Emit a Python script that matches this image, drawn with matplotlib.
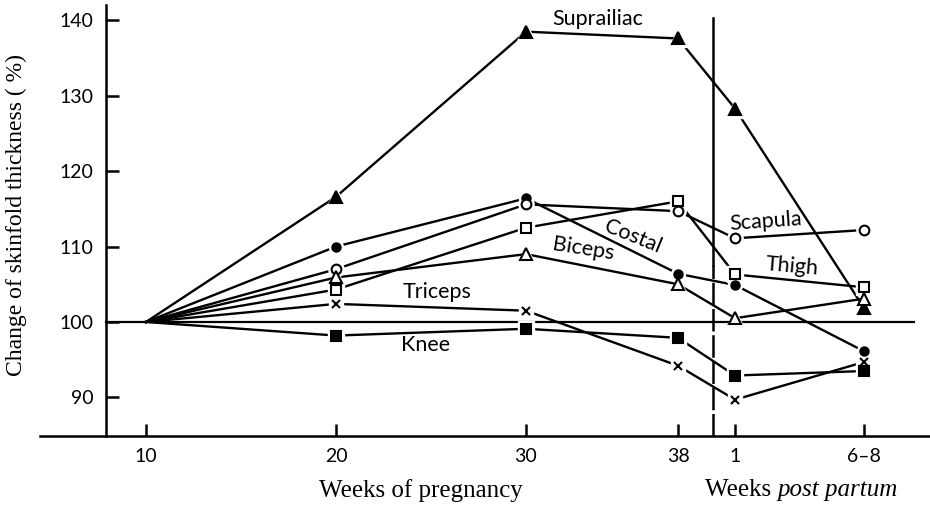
import matplotlib
matplotlib.use('Agg')
from matplotlib import pyplot as plt

# weeks: 10..38 of pregnancy, then 1 and 6-8 weeks post partum
tick_labels = ['10', '20', '30', '38', '1', '6\u20138']
x_pos = [10, 20, 30, 38, 41.0, 47.8]

suprailiac = [100, 116.6, 138.5, 137.6, 128.3, 101.8]
costal = [100, 110.0, 116.4, 106.4, 104.9, 96.1]
scapula = [100, 107.0, 115.6, 114.7, 111.1, 112.2]
thigh = [100, 104.3, 112.5, 116.0, 106.3, 104.6]
biceps = [100, 105.9, 109.0, 105.0, 100.5, 103.1]
triceps = [100, 102.4, 101.5, 94.2, 89.7, 94.7]
knee = [100, 98.2, 99.1, 97.9, 92.9, 93.5]

yticks = [90, 100, 110, 120, 130, 140]

sans = ['Lato', 'DejaVu Sans']
serif = ['Liberation Serif', 'DejaVu Serif']

fig = plt.figure(figsize=(9.3, 5.09), dpi=100)
ax = fig.add_axes([0, 0, 1, 1])
ax.set_xlim(2.32, 51.26)
ax.set_ylim(75.2, 142.7)
ax.patch.set_alpha(0)

# axes drawn as spines placed in data coords
for s in ['top', 'right']:
    ax.spines[s].set_visible(False)
ax.spines['left'].set_position(('data', 7.9))
ax.spines['left'].set_bounds(84.9, 142.0)
ax.spines['bottom'].set_position(('data', 84.9))
ax.spines['bottom'].set_bounds(4.4, 51.26)
for s in ['left', 'bottom']:
    ax.spines[s].set_linewidth(1.8)

ax.set_yticks(yticks)
ax.set_yticklabels([str(v) for v in yticks], family=sans, fontsize=14)
ax.set_xticks(x_pos)
ax.set_xticklabels(tick_labels, family=sans, fontsize=14)
ax.tick_params(direction='in', length=9, width=1.8, pad=9)

# reference line at 100 and birth divider
ax.plot([7.9, 50.4], [100, 100], color='black', lw=1.6, zorder=1)
ax.plot([39.84, 39.84], [107.5, 140.3], color='black', lw=1.8, zorder=1)
ax.plot([39.84, 39.84], [84.9, 107.5], color='black', lw=1.8, zorder=1,
        ls=(0, (9, 1.5)))

series = [
    (suprailiac, '^', 'black', 8.5),
    (costal, 'o', 'black', 6),
    (scapula, 'o', 'white', 7),
    (thigh, 's', 'white', 7),
    (biceps, '^', 'white', 8),
    (triceps, 'x', 'black', 6),
    (knee, 's', 'black', 7.5),
]
for vals, mk, fc, ms in series:
    ax.plot(x_pos, vals, color='black', lw=1.7, zorder=2)
    # white halo so lines stop short of the symbols
    ax.plot(x_pos[1:], vals[1:], ls='none', marker=mk if mk != 'x' else 's',
            ms=ms + 4, color='white', mec='white', zorder=3)
    ax.plot(x_pos[1:], vals[1:], ls='none', marker=mk, ms=ms, mfc=fc,
            mec='black', mew=1.5, zorder=4)

lab = dict(family=sans, fontsize=15.5, ha='center', va='center')
ax.text(33.8, 140.2, 'Suprailiac', **lab)
ax.text(35.6, 111.3, 'Costal', rotation=-22, **lab)
ax.text(33.0, 109.7, 'Biceps', rotation=-9, **lab)
ax.text(25.3, 104.0, 'Triceps', **lab)
ax.text(24.7, 97.0, 'Knee', **lab)
ax.text(42.6, 113.3, 'Scapula', rotation=4, **lab)
ax.text(44.0, 107.4, 'Thigh', rotation=-5, **lab)

ax.text(3.2, 114.2, 'Change of skinfold thickness ( %)', family=serif,
        fontsize=17, rotation=90, ha='center', va='center')
ax.text(24.47, 77.7, 'Weeks of pregnancy', family=serif, fontsize=18,
        ha='center', va='center')
ax.text(43.24, 77.7, 'Weeks ', family=serif, fontsize=18,
        ha='right', va='center')
ax.text(43.24, 77.7, 'post partum', family=serif, fontsize=18,
        style='italic', ha='left', va='center')

fig.savefig('out.png', dpi=100, facecolor='white')
